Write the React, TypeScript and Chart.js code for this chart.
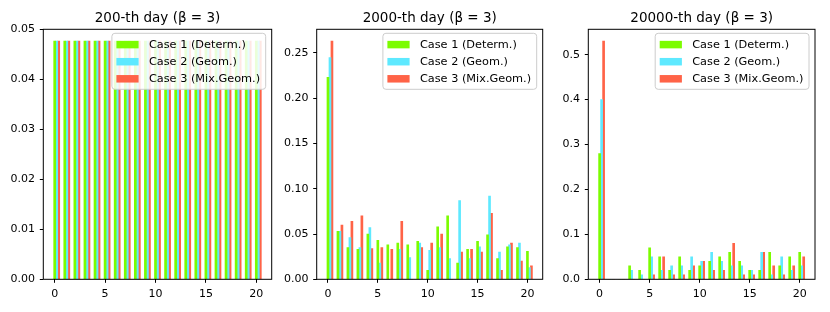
import React, { useEffect, useRef } from 'react';
import { Chart, registerables } from 'chart.js';

Chart.register(...registerables);

// ---------- data ----------
const categories = [0, 1, 2, 3, 4, 5, 6, 7, 8, 9, 10, 11, 12, 13, 14, 15, 16, 17, 18, 19, 20];
const seriesNames = ['Case 1 (Determ.)', 'Case 2 (Geom.)', 'Case 3 (Mix.Geom.)'];
const panelTitles = ['200-th day (β = 3)', '2000-th day (β = 3)', '20000-th day (β = 3)'];

const day200Case1 = [0.047619048, 0.047619048, 0.047619048, 0.047619048, 0.047619048, 0.047619048, 0.047619048, 0.047619048, 0.047619048, 0.047619048, 0.047619048, 0.047619048, 0.047619048, 0.047619048, 0.047619048, 0.047619048, 0.047619048, 0.047619048, 0.047619048, 0.047619048, 0.047619048];
const day200Case2 = [0.047619048, 0.047619048, 0.047619048, 0.047619048, 0.047619048, 0.047619048, 0.047619048, 0.047619048, 0.047619048, 0.047619048, 0.047619048, 0.047619048, 0.047619048, 0.047619048, 0.047619048, 0.047619048, 0.047619048, 0.047619048, 0.047619048, 0.047619048, 0.047619048];
const day200Case3 = [0.047619048, 0.047619048, 0.047619048, 0.047619048, 0.047619048, 0.047619048, 0.047619048, 0.047619048, 0.047619048, 0.047619048, 0.047619048, 0.047619048, 0.047619048, 0.047619048, 0.047619048, 0.047619048, 0.047619048, 0.047619048, 0.047619048, 0.047619048, 0.047619048];

const day2000Case1 = [0.223, 0.053, 0.035, 0.033, 0.050, 0.043, 0.038, 0.040, 0.038, 0.042, 0.010, 0.058, 0.070, 0.018, 0.033, 0.042, 0.049, 0.023, 0.036, 0.035, 0.031];
const day2000Case2 = [0.245, 0.053, 0.046, 0.035, 0.057, 0.018, 0.000, 0.033, 0.024, 0.040, 0.032, 0.035, 0.023, 0.087, 0.023, 0.036, 0.092, 0.030, 0.038, 0.040, 0.013];
const day2000Case3 = [0.263, 0.060, 0.064, 0.070, 0.034, 0.035, 0.033, 0.064, 0.000, 0.035, 0.040, 0.050, 0.000, 0.030, 0.033, 0.030, 0.073, 0.010, 0.040, 0.020, 0.015];

const day20000Case1 = [0.28, 0, 0, 0.03, 0.02, 0.07, 0.05, 0.02, 0.05, 0.02, 0.03, 0.04, 0.05, 0.06, 0.04, 0.02, 0.02, 0.06, 0.03, 0.05, 0.06];
const day20000Case2 = [0.40, 0, 0, 0.02, 0.01, 0.05, 0.02, 0.03, 0.03, 0.05, 0.04, 0.06, 0.04, 0.03, 0.03, 0.02, 0.06, 0.01, 0.05, 0.02, 0.03];
const day20000Case3 = [0.53, 0, 0, 0, 0, 0.01, 0.05, 0.01, 0.01, 0.03, 0.04, 0.02, 0.02, 0.08, 0.01, 0.01, 0.06, 0.03, 0.01, 0.03, 0.05];

const panelSeries = [
  [day200Case1, day200Case2, day200Case3],
  [day2000Case1, day2000Case2, day2000Case3],
  [day20000Case1, day20000Case2, day20000Case3],
];

// tick values and labels
const xTickValues = [0, 5, 10, 15, 20];
const day200YTicks = [0, 0.01, 0.02, 0.03, 0.04, 0.05];
const day200YLabels = ['0.00', '0.01', '0.02', '0.03', '0.04', '0.05'];
const day2000YTicks = [0, 0.05, 0.10, 0.15, 0.20, 0.25];
const day2000YLabels = ['0.00', '0.05', '0.10', '0.15', '0.20', '0.25'];
const day20000YTicks = [0, 0.1, 0.2, 0.3, 0.4, 0.5];
const day20000YLabels = ['0.0', '0.1', '0.2', '0.3', '0.4', '0.5'];
const panelYTicks = [day200YTicks, day2000YTicks, day20000YTicks];
const panelYLabels = [day200YLabels, day2000YLabels, day20000YLabels];

// ---------- styles / layout ----------
const seriesColors = ['#7CFC00', '#5EE9FF', '#FF6347'];
const barOffsets = [0, 0.2, 0.4];
const barHalfWidth = 0.1;
const FONT = '"DejaVu Sans", "Noto Sans", sans-serif';

const panelLayouts = [
  { left: 0, width: 275, yAxisWidth: 43.3, padRight: 3.3 },
  { left: 275, width: 275, yAxisWidth: 41.7, padRight: 7.3 },
  { left: 550, width: 280, yAxisWidth: 38.3, padRight: 15 },
];
const HEIGHT = 312;

const mplPlugin = {
  id: 'mplDecor',
  afterDatasetsDraw(chart: any) {
    const { ctx, chartArea: ca } = chart;
    ctx.save();
    ctx.font = `11.3px ${FONT}`;
    const textW = Math.max(...seriesNames.map((n) => ctx.measureText(n).width));
    const padL = 4.5, swW = 22.2, gap = 10.3, padR = 5.6;
    const w = padL + swW + gap + textW + padR;
    const h = 56;
    const right = ca.right - 6;
    const top = ca.top + 4;
    const left = right - w;
    ctx.beginPath();
    (ctx as any).roundRect(left, top, w, h, 3);
    ctx.fillStyle = 'rgba(255,255,255,0.85)';
    ctx.fill();
    ctx.strokeStyle = '#cccccc';
    ctx.lineWidth = 1;
    ctx.stroke();
    seriesNames.forEach((n, i) => {
      const cy = top + 11.3 + i * 17.1;
      ctx.fillStyle = seriesColors[i];
      ctx.fillRect(left + padL, cy - 3.75, swW, 7.5);
      ctx.fillStyle = '#000';
      ctx.textBaseline = 'middle';
      ctx.textAlign = 'left';
      ctx.fillText(n, left + padL + swW + gap, cy + 0.5);
    });
    ctx.restore();
  },
  afterDraw(chart: any) {
    const { ctx, chartArea: ca } = chart;
    ctx.save();
    ctx.strokeStyle = '#000';
    ctx.lineWidth = 1;
    ctx.strokeRect(ca.left, ca.top, ca.right - ca.left, ca.bottom - ca.top);
    ctx.restore();
  },
};

function Panel({ idx }: { idx: number }) {
  const ref = useRef<HTMLCanvasElement>(null);
  const L = panelLayouts[idx];
  useEffect(() => {
    const series = panelSeries[idx];
    const allVals = series.flat();
    const yMax = Math.max(...allVals) * 1.05;
    const xMinData = categories[0] + barOffsets[0] - barHalfWidth;
    const xMaxData = categories[categories.length - 1] + barOffsets[2] + barHalfWidth;
    const xMargin = (xMaxData - xMinData) * 0.05;
    const yTicks = panelYTicks[idx];
    const yLabels = panelYLabels[idx];
    const chart = new Chart(ref.current as HTMLCanvasElement, {
      type: 'bar',
      data: {
        datasets: series.map((vals, s) => ({
          label: seriesNames[s],
          data: categories.map((c, i) => ({ x: c + barOffsets[s], y: vals[i] })),
          backgroundColor: seriesColors[s],
          borderWidth: 0,
          grouped: false,
          barPercentage: 1,
          categoryPercentage: 1,
        })),
      },
      options: {
        responsive: false,
        animation: false,
        devicePixelRatio: 1,
        layout: { padding: { left: 0, right: L.padRight, top: 0, bottom: 0 } },
        plugins: {
          legend: { display: false },
          tooltip: { enabled: false },
          title: {
            display: true,
            text: panelTitles[idx],
            fullSize: false,
            color: '#000',
            font: { family: FONT, size: 13.5, weight: 'normal' },
            padding: { top: 10.3, bottom: 2.8 },
          },
        },
        scales: {
          x: {
            type: 'linear',
            min: xMinData - xMargin,
            max: xMaxData + xMargin,
            bounds: 'data',
            offset: false,
            grid: { display: true, offset: false, drawOnChartArea: false, drawTicks: true, tickLength: 3.5, tickColor: '#000', lineWidth: 1 },
            border: { display: false },
            ticks: {
              autoSkip: false,
              color: '#000',
              padding: 4.3,
              maxRotation: 0,
              font: { family: FONT, size: 11 },
              callback: (v: any) => String(v),
            },
            afterBuildTicks: (scale: any) => { scale.ticks = xTickValues.map((v) => ({ value: v })); },
            afterFit: (scale: any) => { scale.height = HEIGHT - 279.3; },
          },
          y: {
            type: 'linear',
            min: 0,
            max: yMax,
            bounds: 'data',
            grid: { display: true, drawOnChartArea: false, drawTicks: true, tickLength: 3.5, tickColor: '#000', lineWidth: 1 },
            border: { display: false },
            ticks: {
              autoSkip: false,
              color: '#000',
              padding: 4.8,
              font: { family: FONT, size: 11 },
              callback: (_v: any, i: number) => yLabels[i],
            },
            afterBuildTicks: (scale: any) => { scale.ticks = yTicks.map((v) => ({ value: v })); },
            afterFit: (scale: any) => { scale.width = L.yAxisWidth; },
          },
        },
      } as any,
      plugins: [mplPlugin],
    });
    return () => chart.destroy();
  }, [idx]);
  return (
    <canvas
      ref={ref}
      width={L.width}
      height={HEIGHT}
      style={{ position: 'absolute', left: L.left, top: 0, width: L.width, height: HEIGHT }}
    />
  );
}

export default function App() {
  return (
    <div style={{ position: 'absolute', left: 0, top: 0, width: 830, height: HEIGHT, background: '#fff', overflow: 'hidden' }}>
      <Panel idx={0} />
      <Panel idx={1} />
      <Panel idx={2} />
    </div>
  );
}
